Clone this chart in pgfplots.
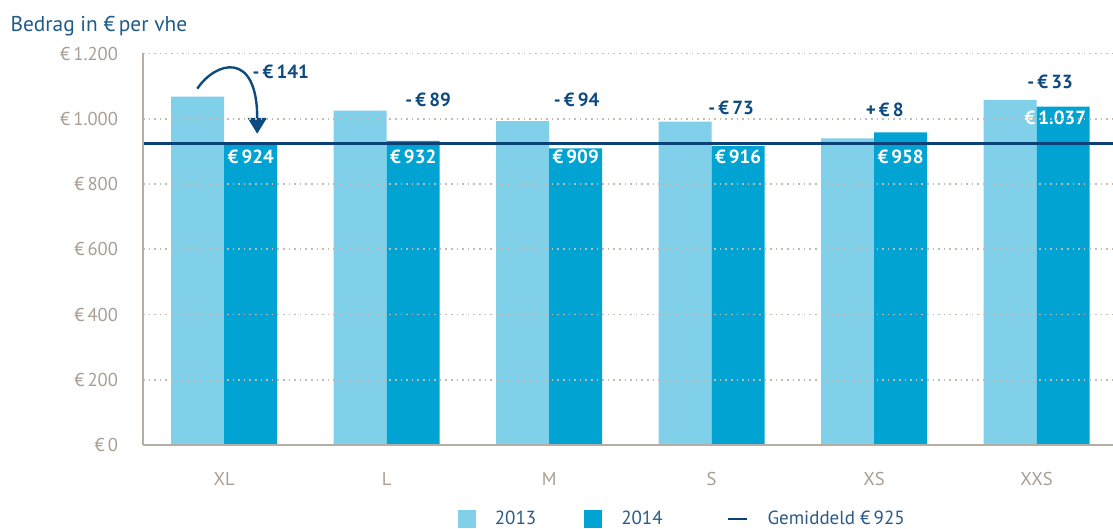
\documentclass[border=0pt]{standalone}
\usepackage{pgfplots}
\pgfplotsset{compat=1.18}
\usepackage{fontspec}
\setmainfont{PT Sans}
\usetikzlibrary{arrows.meta}
\definecolor{c13}{HTML}{80D0EA}
\definecolor{c14}{HTML}{00A3D2}
\definecolor{navy}{HTML}{0D4A80}
\definecolor{meanc}{HTML}{0B4177}
\definecolor{tickc}{HTML}{A99E94}
\definecolor{axc}{HTML}{B8ADA3}
\definecolor{gridc}{HTML}{C4BAB0}
\definecolor{titlec}{HTML}{1F5A8C}
\definecolor{legc}{HTML}{2A5A85}
\begin{document}
\begin{tikzpicture}
\begin{axis}[name=ax, scale only axis, width=485pt, height=195.75pt,
  xmin=-0.5, xmax=5.47, ymin=0, ymax=1200,
  axis x line*=bottom, axis y line*=left,
  axis line style={axc},
  x axis line style={line width=1.3pt},
  y axis line style={line width=1pt},
  xtick={0,...,5}, xticklabels={XL,L,M,S,XS,XXS},
  ytick={0,200,...,1200},
  yticklabels={€\,0,€\,200,€\,400,€\,600,€\,800,€\,1.000,€\,1.200},
  major tick length=0pt,
  ymajorgrids, grid style={gridc, line width=0.8pt, dash pattern=on 0.8pt off 2pt},
  axis on top,
  tick label style={text=tickc, font=\fontsize{9.3}{11}\selectfont},
  yticklabel style={xshift=-9pt},
  xticklabel style={yshift=-10pt},
  clip=false,
  legend columns=3,
  legend style={at={(0.555,-0.189)}, anchor=center, draw=none, fill=none,
    font=\fontsize{9.5}{11}\selectfont, text=legc,
    /tikz/every odd column/.append style={column sep=9.5pt},
    /tikz/every even column/.append style={column sep=24pt},
    nodes={inner sep=0pt}},
]
\addplot[ybar, bar width=26.5pt, bar shift=-13.25pt, fill=c13, draw=none,
  legend image code/.code={\fill[c13] (0pt,-4.5pt) rectangle (9pt,4.5pt);}]
  coordinates {(0,1068) (1,1025) (2,993) (3,991) (4,940) (5,1058)};
\addlegendentry{2013}
\addplot[ybar, bar width=26.5pt, bar shift=13.25pt, fill=c14, draw=none,
  legend image code/.code={\fill[c14] (0pt,-4.5pt) rectangle (9pt,4.5pt);}]
  coordinates {(0,924) (1,932) (2,909) (3,916) (4,958) (5,1037)};
\addlegendentry{2014}
\addplot[meanc, line width=1.4pt, sharp plot, no marks,
  legend image code/.code={\path (0pt,0pt); \draw[meanc, line width=1.4pt] (8pt,0pt) -- (17.5pt,0pt);}]
  coordinates {(-0.5,925) (5.47,925)};
\addlegendentry{Gemiddeld €\,925}

% value labels 2014
\foreach \x/\y/\t in {0/863.5/924, 1/863.5/932, 2/863.5/909, 3/863.5/916, 4/863.5/958, 5/981.6/1.037}{
  \edef\temp{\noexpand\node[anchor=base east, text=white, font=\noexpand\fontsize{9.5}{11}\noexpand\bfseries, inner sep=0pt, xshift=25pt] at (axis cs:\x,\y) {€\noexpand\,\t};}
  \temp
}
% difference labels
\node[anchor=base, text=navy, font=\fontsize{9.5}{11}\bfseries, inner sep=0pt] at (axis cs:0.348,1122.7) {-\,€\,141};
\node[anchor=base, text=navy, font=\fontsize{9.5}{11}\bfseries, inner sep=0pt] at (axis cs:1.255,1036.8) {-\,€\,89};
\node[anchor=base, text=navy, font=\fontsize{9.5}{11}\bfseries, inner sep=0pt] at (axis cs:2.169,1036.8) {-\,€\,94};
\node[anchor=base, text=navy, font=\fontsize{9.5}{11}\bfseries, inner sep=0pt] at (axis cs:3.120,1012) {-\,€\,73};
\node[anchor=base, text=navy, font=\fontsize{9.5}{11}\bfseries, inner sep=0pt] at (axis cs:4.065,1006) {+\,€\,8};
\node[anchor=base, text=navy, font=\fontsize{9.5}{11}\bfseries, inner sep=0pt] at (axis cs:5.083,1092) {-\,€\,33};
% arrow
\draw[navy, line width=1.2pt, -{Triangle[length=8pt, width=9.5pt]}]
  (axis cs:-0.166,1092) .. controls (axis cs:-0.055,1175) and (axis cs:0.203,1212) .. (axis cs:0.203,954);
% title
\node[anchor=base west, text=titlec, font=\fontsize{10.7}{13}\selectfont, inner sep=0pt]
  at (rel axis cs:-0.137,1.055) {Bedrag in €\,per vhe};
\end{axis}
\pgfresetboundingbox
\path (ax.south west) ++(-71.5pt,-42pt) rectangle ++(556.5pt,264.5pt);
\end{tikzpicture}
\end{document}
